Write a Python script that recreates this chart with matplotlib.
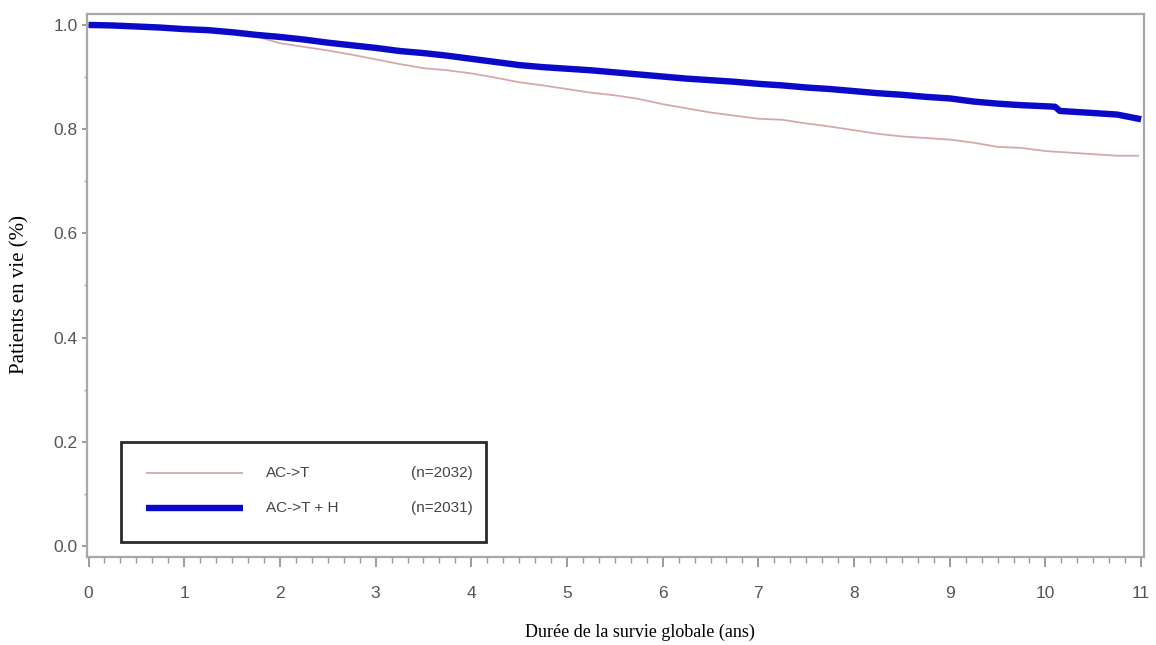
import matplotlib
matplotlib.use("Agg")
import matplotlib.pyplot as plt
from matplotlib.ticker import MultipleLocator, FixedLocator
from matplotlib.patches import Rectangle
from matplotlib.lines import Line2D

# Kaplan-Meier overall survival estimates (years, proportion alive)
time_ac_t = [0.0, 0.25, 0.5, 0.75, 1.0, 1.25, 1.5, 1.75, 2.0, 2.25, 2.5, 2.75,
             3.0, 3.25, 3.5, 3.75, 4.0, 4.25, 4.5, 4.75, 5.0, 5.25, 5.5, 5.75,
             6.0, 6.25, 6.5, 6.75, 7.0, 7.25, 7.5, 7.75, 8.0, 8.25, 8.5, 8.75,
             9.0, 9.25, 9.5, 9.75, 10.0, 10.25, 10.5, 10.75, 10.97]
surv_ac_t = [1.000, 0.999, 0.997, 0.995, 0.992, 0.989, 0.985, 0.978, 0.965, 0.958,
             0.951, 0.943, 0.934, 0.925, 0.917, 0.913, 0.907, 0.899, 0.890, 0.884,
             0.877, 0.870, 0.865, 0.858, 0.848, 0.840, 0.832, 0.826, 0.820, 0.818,
             0.811, 0.805, 0.798, 0.791, 0.786, 0.783, 0.780, 0.774, 0.766, 0.764,
             0.758, 0.755, 0.752, 0.749, 0.749]

time_ac_t_h = [0.0, 0.25, 0.5, 0.75, 1.0, 1.25, 1.5, 1.75, 2.0, 2.25, 2.5, 2.75,
               3.0, 3.25, 3.5, 3.75, 4.0, 4.25, 4.5, 4.75, 5.0, 5.25, 5.5, 5.75,
               6.0, 6.25, 6.5, 6.75, 7.0, 7.25, 7.5, 7.75, 8.0, 8.25, 8.5, 8.75,
               9.0, 9.25, 9.5, 9.75, 10.0, 10.1, 10.15, 10.5, 10.75, 11.0]
surv_ac_t_h = [1.000, 0.999, 0.997, 0.995, 0.992, 0.990, 0.986, 0.981, 0.977, 0.972,
               0.966, 0.961, 0.956, 0.950, 0.946, 0.941, 0.935, 0.929, 0.923, 0.919,
               0.916, 0.913, 0.909, 0.905, 0.901, 0.897, 0.894, 0.891, 0.887, 0.884,
               0.880, 0.877, 0.873, 0.869, 0.866, 0.862, 0.859, 0.853, 0.849, 0.846,
               0.844, 0.843, 0.835, 0.831, 0.828, 0.819]

group_labels = ["AC->T", "AC->T + H"]
group_sizes = ["(n=2032)", "(n=2031)"]
x_ticks = list(range(0, 12))
y_ticks = [0.0, 0.2, 0.4, 0.6, 0.8, 1.0]

COL_AC_T = "#d6a9a9"
COL_AC_T_H = "#0a0ac8"
LW_AC_T = 1.3
LW_AC_T_H = 4.6
SPINE = "#a8a8a8"
TICK_TXT = "#555555"

W, H = 1156, 645
fig = plt.figure(figsize=(W / 100, H / 100), dpi=100)
fig.patch.set_facecolor("white")
ax = fig.add_axes([87 / W, 1 - 557 / H, (1144 - 87) / W, (557 - 14) / H])

ax.plot(time_ac_t, surv_ac_t, color=COL_AC_T, lw=LW_AC_T, zorder=3)
ax.plot(time_ac_t_h, surv_ac_t_h, color=COL_AC_T_H, lw=LW_AC_T_H,
        solid_capstyle="butt", zorder=4)

ax.set_xlim(-0.016, 11.03)
ax.set_ylim(-0.021, 1.021)

ax.xaxis.set_major_locator(FixedLocator(x_ticks))
ax.xaxis.set_minor_locator(MultipleLocator(1 / 6))
ax.yaxis.set_major_locator(FixedLocator(y_ticks))
ax.yaxis.set_minor_locator(MultipleLocator(0.1))
ax.set_xticklabels([str(v) for v in x_ticks])
ax.set_yticklabels([f"{v:.1f}" for v in y_ticks])

tick_font = ["Liberation Sans", "DejaVu Sans"]
for lab in ax.get_xticklabels() + ax.get_yticklabels():
    lab.set_family(tick_font)
    lab.set_fontsize(12.5)
    lab.set_color(TICK_TXT)

ax.tick_params(axis="x", which="major", direction="out", length=7, width=1.2,
               color="#8a8a8a", pad=14)
ax.tick_params(axis="x", which="minor", direction="out", length=4, width=1.0,
               color="#9a9a9a")
ax.tick_params(axis="y", which="major", direction="out", length=3.5, width=1.2,
               color="#8a8a8a", pad=3)
ax.tick_params(axis="y", which="minor", direction="out", length=2.5, width=1.0,
               color="#9a9a9a")

for side in ["left", "right", "top", "bottom"]:
    ax.spines[side].set_color(SPINE)
    ax.spines[side].set_linewidth(1.6)

ax.set_xlabel("Durée de la survie globale (ans)", family=["Liberation Serif", "DejaVu Serif"],
              fontsize=13, color="black")
ax.set_ylabel("Patients en vie (%)", family=["Liberation Serif", "DejaVu Serif"],
              fontsize=15, color="black")
ax.xaxis.set_label_coords((640 - 87) / (1144 - 87), -(624 - 557) / (557 - 14))
ax.yaxis.set_label_coords(-(87 - 29) / (1144 - 87), (557 - 295) / (557 - 14))

# Legend panel
ax.add_patch(Rectangle((0.0322, 0.0276), 0.3775 - 0.0322, 0.2118 - 0.0276,
                       transform=ax.transAxes, facecolor="white",
                       edgecolor="#2a2a2a", lw=2.0, zorder=5))
legend_rows_y = [0.1547, 0.0902]
legend_colors = [COL_AC_T, COL_AC_T_H]
legend_widths = [LW_AC_T, LW_AC_T_H]
for yy, c, w, lab, n in zip(legend_rows_y, legend_colors, legend_widths,
                            group_labels, group_sizes):
    ax.add_line(Line2D([0.0558, 0.1476], [yy, yy], transform=ax.transAxes,
                       color=c, lw=w, solid_capstyle="butt", zorder=6))
    ax.text(0.169, yy, lab, transform=ax.transAxes, ha="left", va="center",
            family=tick_font, fontsize=11, color="#444444", zorder=6)
    ax.text(0.365, yy, n, transform=ax.transAxes, ha="right", va="center",
            family=tick_font, fontsize=11, color="#444444", zorder=6)

fig.savefig("out.png", dpi=100, facecolor="white")
